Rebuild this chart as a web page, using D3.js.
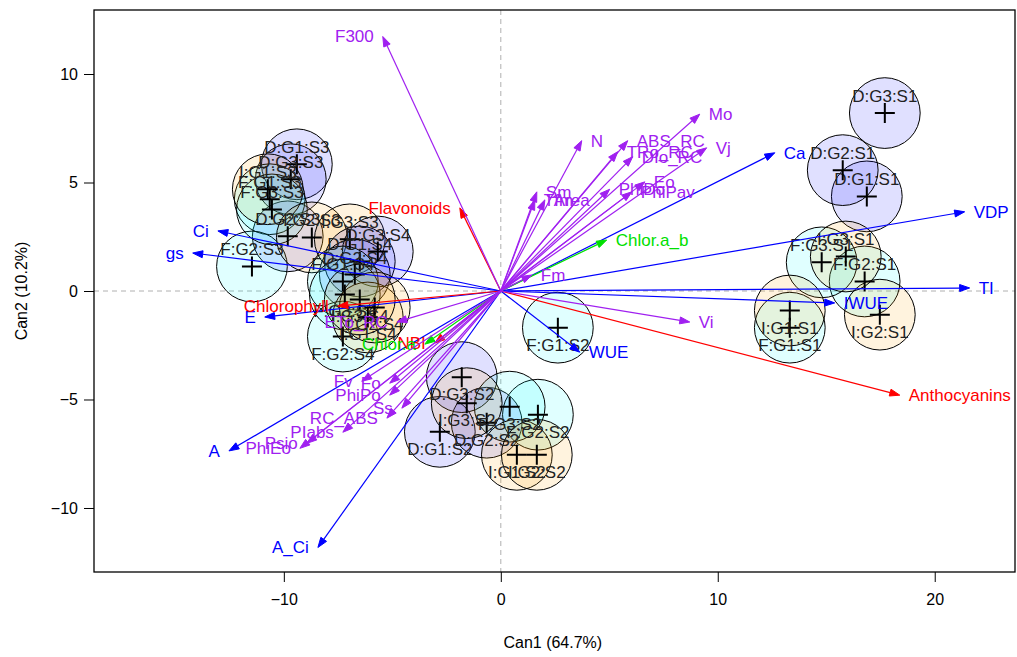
<!DOCTYPE html>
<html>
<head>
<meta charset="utf-8">
<script src="https://cdn.jsdelivr.net/npm/d3@7"></script>
<style>
  body { margin: 0; background: #fff; }
  text { font-family: Arial, "Liberation Sans", sans-serif; }
</style>
</head>
<body>
<div id="plot"></div>
<script>
// group centroids (Can1, Can2)
const groupNames = [
  "D:G1:S1","D:G2:S1","D:G3:S1","F:G1:S1","F:G2:S1","F:G3:S1","I:G1:S1","I:G2:S1","I:G3:S1",
  "D:G1:S2","D:G2:S2","D:G3:S2","F:G1:S2","F:G2:S2","F:G3:S2","I:G1:S2","I:G2:S2","I:G3:S2",
  "D:G1:S3","D:G2:S3","D:G3:S3","F:G1:S3","F:G2:S3","F:G3:S3","I:G1:S3","I:G2:S3","I:G3:S3",
  "D:G1:S4","D:G2:S4","D:G3:S4","F:G1:S4","F:G2:S4","F:G3:S4","I:G1:S4","I:G2:S4","I:G3:S4"
];
const groupX = [
  16.87, 15.76, 17.70, 13.32, 16.77, 14.79, 13.32, 17.47, 15.90,
  -2.81, -0.65, -1.80, 2.63, 1.71, 0.41, 0.74, 1.66, -1.57,
  -9.40, -9.82, -9.68, -10.65, -11.47, -10.55, -10.74, -8.71, -6.96,
  -6.50, -6.73, -5.67, -7.28, -7.28, -7.19, -6.13, -5.81, -6.50
];
const groupY = [
  4.36, 5.57, 8.20, -1.69, 0.44, 1.32, -0.90, -1.09, 1.59,
  -6.49, -6.07, -3.97, -1.69, -5.70, -5.33, -7.55, -7.55, -5.17,
  5.84, 2.52, 5.15, 4.23, 1.13, 3.76, 4.69, 2.47, 2.38,
  1.36, 0.76, 1.82, 0.44, -2.10, -0.16, -1.22, -0.76, -0.39
];

// structure vectors
const vecNames = [
  "Ca","VDP","TI","IWUE","WUE","A_Ci","A","E","gs","Ci",
  "Flavonoids","Chlorophyll","NBI","Anthocyanins",
  "Chlor.a_b","Chlor.a",
  "F300","Mo","Vj","N","ABS_RC","TRo_RC","DIo_RC","Eo","PhiPav","PhiDo","Sm","Tfm","Area","Fm","Vi",
  "ETo_RC","Fv","Fo","PhiPo","Ss","RC_ABS","PIabs","Psio","PhiEo"
];
const vecX = [
  12.63, 21.38, 21.61, 15.39, 3.64, -8.43, -12.53, -10.88, -14.20, -13.04,
  -1.89, -7.51, -3.04, 18.39,
  4.88, -3.50,
  -5.44, 9.17, 9.49, 3.73, 5.85, 5.39, 6.08, 6.64, 6.04, 5.02, 1.66, 1.57, 2.03, 1.43, 8.71,
  -4.79, -6.41, -5.12, -5.12, -4.56, -5.25, -7.28, -8.94, -9.26
];
const vecY = [
  6.37, 3.65, 0.14, -0.55, -2.82, -11.82, -7.37, -1.20, 1.75, 2.77,
  3.83, -0.69, -2.40, -4.80,
  2.35, -2.45,
  11.73, 8.15, 6.60, 6.93, 6.93, 6.42, 6.19, 5.03, 4.57, 4.69, 4.57, 4.20, 4.20, 0.74, -1.43,
  -1.43, -4.16, -4.25, -4.80, -5.40, -5.86, -6.51, -7.02, -7.25
];
const vecType = [
  "phys","phys","phys","phys","phys","phys","phys","phys","phys","phys",
  "pig","pig","pig","pig",
  "chl","chl",
  "jip","jip","jip","jip","jip","jip","jip","jip","jip","jip","jip","jip","jip","jip","jip",
  "jip","jip","jip","jip","jip","jip","jip","jip","jip"
];

const xTicks = [-10, 0, 10, 20];
const yTicks = [-10, -5, 0, 5, 10];
const xTitle = "Can1 (64.7%)";
const yTitle = "Can2 (10.2%)";

const width = 1017, height = 657;
const pLeft = 94, pRight = 1015, pTop = 10, pBottom = 572;

const x = d3.scaleLinear().domain([-18.75, 23.7]).range([pLeft, pRight]);
const y = d3.scaleLinear().domain([-12.95, 12.95]).range([pBottom, pTop]);
const radius = 1.63; // circle radius in data units

const fillFor = {D: "rgba(0,0,255,0.12)", F: "rgba(0,255,255,0.12)", I: "rgba(255,165,0,0.13)"};
const vecColor = {phys: "#0000ff", pig: "#ff0000", chl: "#00e000", jip: "#a020f0"};

const svg = d3.select("#plot").append("svg")
  .attr("width", width)
  .attr("height", height);

const plot = svg.append("g");

// reference lines
plot.append("line")
  .attr("x1", x(0)).attr("x2", x(0)).attr("y1", pTop).attr("y2", pBottom)
  .attr("stroke", "#b0b0b0").attr("stroke-dasharray", "5,4");
plot.append("line")
  .attr("x1", pLeft).attr("x2", pRight).attr("y1", y(0)).attr("y2", y(0))
  .attr("stroke", "#b0b0b0").attr("stroke-dasharray", "5,4");

// group circles, centroids and labels
const groups = groupNames.map((n, i) => ({name: n, x: groupX[i], y: groupY[i]}));
const pxR = x(radius) - x(0);

groups.forEach(function(d) {
  const cx = x(d.x), cy = y(d.y);
  plot.append("circle")
    .attr("cx", cx).attr("cy", cy).attr("r", pxR)
    .attr("fill", fillFor[d.name[0]])
    .attr("stroke", "#000").attr("stroke-width", 1);
});
groups.forEach(function(d) {
  const cx = x(d.x), cy = y(d.y);
  plot.append("path")
    .attr("d", `M${cx - 10},${cy}h20M${cx},${cy - 10}v20`)
    .attr("stroke", "#000").attr("stroke-width", 2);
  plot.append("text")
    .attr("x", cx)
    .attr("y", d.y > 0 ? cy - 11 : cy + 23)
    .attr("text-anchor", "middle")
    .style("font-size", "17px")
    .attr("fill", "#222")
    .text(d.name);
});

// vectors
const vecs = vecNames.map((n, i) => ({name: n, x: vecX[i], y: vecY[i], type: vecType[i]}));
const x0 = x(0), y0 = y(0);

vecs.forEach(function(d) {
  const tx = x(d.x), ty = y(d.y);
  const col = vecColor[d.type];
  const ang = Math.atan2(ty - y0, tx - x0);
  const len = 10, hw = 3.5;
  const bx = tx - len * Math.cos(ang), by = ty - len * Math.sin(ang);
  plot.append("line")
    .attr("x1", x0).attr("y1", y0).attr("x2", bx).attr("y2", by)
    .attr("stroke", col).attr("stroke-width", 1.2);
  plot.append("path")
    .attr("d", `M${tx},${ty}L${bx - hw * Math.sin(ang)},${by + hw * Math.cos(ang)}L${bx + hw * Math.sin(ang)},${by - hw * Math.cos(ang)}Z`)
    .attr("fill", col).attr("stroke", col).attr("stroke-width", 1);
  plot.append("text")
    .attr("x", d.x < 0 ? tx - 9 : tx + 9)
    .attr("y", ty)
    .attr("dy", "0.35em")
    .attr("text-anchor", d.x < 0 ? "end" : "start")
    .style("font-size", "17px")
    .attr("fill", col)
    .text(d.name);
});

// frame
svg.append("rect")
  .attr("x", pLeft).attr("y", pTop)
  .attr("width", pRight - pLeft).attr("height", pBottom - pTop)
  .attr("fill", "none").attr("stroke", "#000").attr("stroke-width", 1.3);

// axes
const xAxis = svg.append("g")
  .attr("transform", `translate(0,${pBottom})`)
  .call(d3.axisBottom(x).tickValues(xTicks).tickSize(10).tickPadding(12).tickFormat(d3.format("d")));
const yAxis = svg.append("g")
  .attr("transform", `translate(${pLeft},0)`)
  .call(d3.axisLeft(y).tickValues(yTicks).tickSize(10).tickPadding(6).tickFormat(d3.format("d")));
[xAxis, yAxis].forEach(function(a) {
  a.select(".domain").remove();
  a.selectAll("line").attr("stroke", "#000");
  a.selectAll("text").style("font-size", "16px").attr("fill", "#000")
    .style("font-family", "Arial, 'Liberation Sans', sans-serif");
});

svg.append("text")
  .attr("x", x(0) + 52).attr("y", 648)
  .attr("text-anchor", "middle")
  .style("font-size", "16px")
  .text(xTitle);
svg.append("text")
  .attr("transform", `translate(27,${y(0)}) rotate(-90)`)
  .attr("text-anchor", "middle")
  .style("font-size", "16px")
  .text(yTitle);
</script>
</body>
</html>
